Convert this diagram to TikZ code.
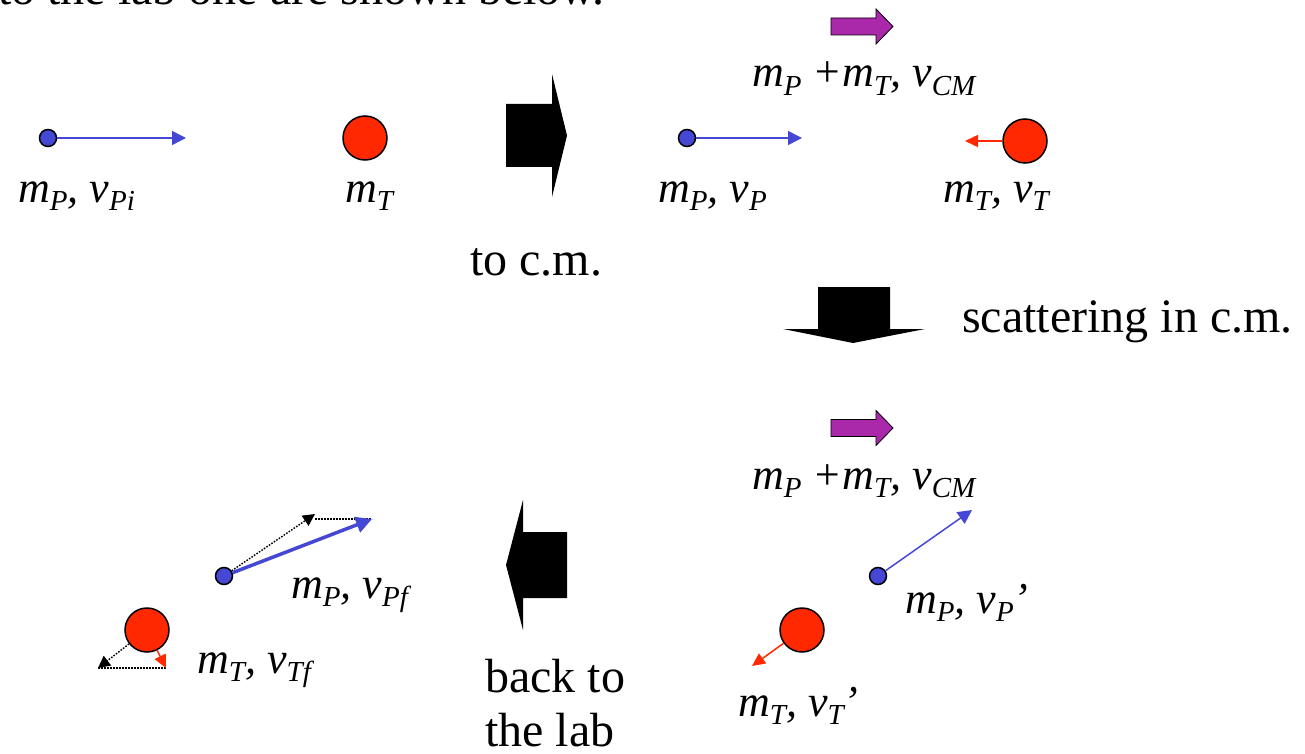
\documentclass[tikz,border=0pt]{standalone}
\usepackage{fontspec}
\setmainfont{Liberation Serif}
\usetikzlibrary{arrows.meta}
\definecolor{pblue}{RGB}{68,72,212}
\definecolor{pred}{RGB}{255,40,0}
\definecolor{ppurple}{RGB}{170,40,170}
\newcommand\sbx[1]{\raisebox{-0.2em}{\fontsize{29}{30}\selectfont #1}}
\tikzset{
 txt/.style={inner sep=0pt, anchor=base west, font=\fontsize{48}{56}\selectfont},
 lbl/.style={inner sep=0pt, anchor=base west, font=\fontsize{44}{50}\selectfont\itshape},
 pball/.style={circle, draw=black, line width=1.5pt, fill=pblue, minimum size=17pt, inner sep=0pt},
 tball/.style={circle, draw=black, line width=1.5pt, fill=pred, minimum size=44pt, inner sep=0pt},
 bvec/.style={draw=pblue, line width=1.5pt, -{Triangle[length=14pt,width=14pt]}},
 bthick/.style={draw=pblue, line width=3.5pt, -{Triangle[length=16pt,width=16pt]}},
 rvec/.style={draw=pred, line width=1.5pt, -{Triangle[length=13pt,width=12pt]}},
 dvec/.style={draw=black, line width=1.4pt, dash pattern=on 1.6pt off 1.4pt, -{Triangle[length=12pt,width=12pt,sep=0pt]}},
 dline/.style={draw=black, line width=1.4pt, dash pattern=on 1.6pt off 1.4pt},
 bigarrow/.style={fill=black},
 cmarrow/.pic={\filldraw[fill=ppurple, draw=black, line width=0.8pt]
   (-31,-8.5) -- (14,-8.5) -- (14,-17.5) -- (31,0) -- (14,17.5) -- (14,8.5) -- (-31,8.5) -- cycle;}
}
\begin{document}
\begin{tikzpicture}[x=1pt,y=-1pt]
\useasboundingbox (0,0) rectangle (1305,754);

% cut-off top line (cut off in the reference as well)
\node[txt] (top) at (-2,5) {to the lab one are shown below.};

% lab frame before
\node[pball] (p1) at (48,138) {};
\coordinate (p1v) at (186,138);
\draw[bvec] (p1) -- (p1v);
\node[lbl] (l1) at (18,202) {m\sbx{P}, v\sbx{Pi}};
\node[tball] (t1) at (365,138) {};
\node[lbl] (l2) at (345,202) {m\sbx{T}};

% to c.m. arrow
\fill[bigarrow] (506,104) -- (552,104) -- (552,74) -- (567,135.5) -- (552,197) -- (552,167) -- (506,167) -- cycle;
\node[txt] (tocm) at (470,275) {to c.m.};

% c.m. frame before
\pic at (862,26.5) {cmarrow};
\node[lbl] (lcm1) at (752,87) {m\sbx{P} +m\sbx{T}, v\sbx{CM}};
\node[pball] (p2) at (687,138) {};
\coordinate (p2v) at (802,138);
\draw[bvec] (p2) -- (p2v);
\node[lbl] (l3) at (658,202) {m\sbx{P},\ v\sbx{P}};
\node[tball] (t2) at (1025,141) {};
\coordinate (t2v) at (965,141);
\draw[rvec] (t2) -- (t2v);
\node[lbl] (l4) at (943,202) {m\sbx{T}, v\sbx{T}};

% scattering arrow
\fill[bigarrow] (818,287) -- (890,287) -- (890,329) -- (925,329) -- (853,343) -- (783,329) -- (818,329) -- cycle;
\node[txt] (scat) at (962,332) {scattering in c.m.};

% c.m. frame after
\pic at (862,428) {cmarrow};
\node[lbl] (lcm2) at (752,489) {m\sbx{P} +m\sbx{T}, v\sbx{CM}};
\node[pball] (p3) at (878,576) {};
\coordinate (p3v) at (972,510);
\draw[bvec] (p3) -- (p3v);
\node[lbl] (l5) at (905,613) {m\sbx{P}, v\sbx{P}’};
\node[tball] (t3) at (802,630) {};
\coordinate (t3v) at (752,666);
\draw[rvec] (t3) -- (t3v);
\node[lbl] (l6) at (738,716) {m\sbx{T}, v\sbx{T}’};

% back to the lab arrow
\fill[bigarrow] (567,532) -- (523,532) -- (523,500) -- (506,565) -- (523,630) -- (523,598) -- (567,598) -- cycle;
\node[txt] (back1) at (485,692) {back to};
\node[txt] (back2) at (485,746) {the lab};

% lab frame after
\node[pball] (p4) at (224,576) {};
\coordinate (p4a) at (315,514);
\coordinate (p4b) at (372,519);
\draw[dvec] (p4) -- (p4a);
\draw[dline] (p4a |- p4b) -- (p4b);
\draw[bthick] (p4) -- (p4b);
\node[lbl] (l7) at (291,598) {m\sbx{P}, v\sbx{Pf}};
\node[tball] (t4) at (147,630) {};
\coordinate (t4a) at (98,668);
\coordinate (t4b) at (166,668);
\draw[dvec] (t4) -- (t4a);
\draw[dline] (t4a) -- (t4b);
\draw[rvec] (t4) -- (t4b);
\node[lbl] (l8) at (197,673) {m\sbx{T}, v\sbx{Tf}};
\end{tikzpicture}
\end{document}
